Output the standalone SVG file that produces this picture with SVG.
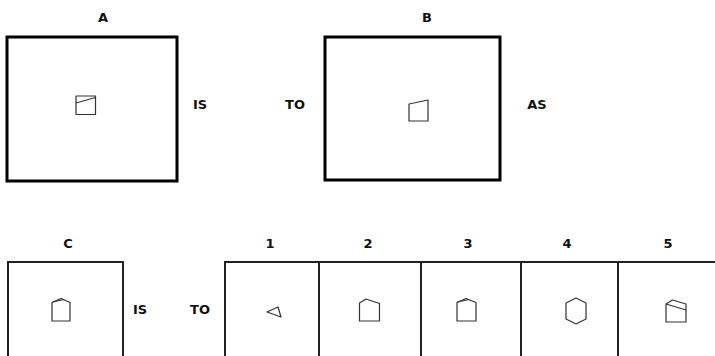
<svg xmlns="http://www.w3.org/2000/svg" width="715" height="356" viewBox="0 0 715 356">
<style>
.lbl{font-family:"DejaVu Sans",Verdana,sans-serif;font-weight:bold;font-size:13px;fill:#111;text-anchor:middle}
.big{fill:none;stroke:#000;stroke-width:3}
.box{fill:none;stroke:#222;stroke-width:2}
.shp{fill:none;stroke:#333;stroke-width:1.2;stroke-linejoin:round}
</style>
<rect width="715" height="356" fill="#fff"/>
<g id="nodeA">
<text class="lbl" x="103" y="22">A</text>
<rect class="big" x="7" y="37" width="170" height="144"/>
<rect class="shp" x="76" y="96" width="19.5" height="18.5"/>
<line class="shp" x1="76" y1="103" x2="95.5" y2="97.5"/>
</g>
<g id="nodeB">
<text class="lbl" x="427" y="22">B</text>
<rect class="big" x="325" y="37" width="175" height="143"/>
<polygon class="shp" points="409,104 428,100 428,121 409,121"/>
</g>
<g id="labels">
<text class="lbl" x="200" y="109">IS</text>
<text class="lbl" x="295" y="109">TO</text>
<text class="lbl" x="537" y="109">AS</text>
<text class="lbl" x="140" y="314">IS</text>
<text class="lbl" x="200" y="314">TO</text>
</g>
<g id="nodeC">
<text class="lbl" x="68" y="248">C</text>
<polyline class="box" points="8,358 8,262 123,262 123,358"/>
<polygon class="shp" points="52,302.5 61,298.5 70,302.5 70,321 52,321"/>
<line class="shp" x1="52.5" y1="302" x2="64" y2="299.5"/>
</g>
<g id="options">
<polyline class="box" points="225,358 225,262 716,262"/>
<line class="box" x1="319" y1="262" x2="319" y2="358"/>
<line class="box" x1="421" y1="262" x2="421" y2="358"/>
<line class="box" x1="521" y1="262" x2="521" y2="358"/>
<line class="box" x1="618" y1="262" x2="618" y2="358"/>
</g>
<g id="opt1">
<text class="lbl" x="270" y="248">1</text>
<polygon class="shp" points="267,312 278,307 281,317"/>
</g>
<g id="opt2">
<text class="lbl" x="368" y="248">2</text>
<polygon class="shp" points="359.5,303 366,299 379.5,303.5 379.5,321 359.5,321"/>
</g>
<g id="opt3">
<text class="lbl" x="468" y="248">3</text>
<polygon class="shp" points="457,302.5 466,298.5 476,302.5 476,321 457,321"/>
<line class="shp" x1="457.5" y1="302" x2="469" y2="299.5"/>
</g>
<g id="opt4">
<text class="lbl" x="567" y="248">4</text>
<polygon class="shp" points="576,298 586,303 586,319 576,324 566,319 566,303"/>
</g>
<g id="opt5">
<text class="lbl" x="668" y="248">5</text>
<polygon class="shp" points="666,304 672.5,300 686,304 686,322 666,322"/>
<line class="shp" x1="666" y1="304" x2="686" y2="310"/>
</g>
</svg>
